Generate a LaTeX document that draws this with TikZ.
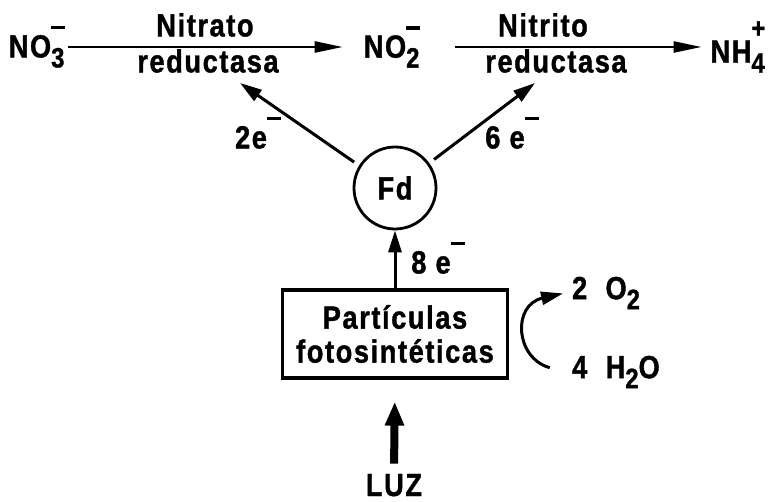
\documentclass[tikz,border=0pt]{standalone}
\usepackage{fontspec}
\setmainfont[LetterSpace=5, FakeStretch=0.85, BoldFeatures={FakeBold=1.2}]{Liberation Sans}
\usepackage{tikz}
\usetikzlibrary{
  arrows.meta,
  positioning
}
\newcommand{\subsz}{\fontsize{14}{14}\selectfont}
\newcommand{\chmin}{\rule[14pt]{7pt}{1.6pt}}
\newcommand{\chplus}{\raisebox{12.5pt}{\subsz +}}
\newcommand{\ion}[3]{#1\rlap{\raisebox{-5pt}{\subsz #2}}#3}
\newcommand{\chsub}[1]{\raisebox{-5pt}{\subsz #1}}

\begin{document}
\begin{tikzpicture}[
  x=0.5pt, y=-0.5pt,
  every node/.style={font=\fontsize{16}{18}\selectfont\bfseries},
  flow/.style={-{Triangle[length=14pt,width=5.5pt]}, line width=1.2pt},
  eflow/.style={-{Triangle[length=11pt,width=6.5pt]}, line width=1.5pt},
  light/.style={-{Triangle[length=12pt,width=9pt]}, line width=4pt},
  fdnode/.style={circle, draw, line width=1.4pt, minimum size=41pt, inner sep=0pt},
  partbox/.style={draw, line width=1.6pt, minimum width=112.5pt, minimum height=44pt,
                  align=center, inner sep=2pt}
]
  \useasboundingbox (0,0) rectangle (772,502);

  % Nitrogen reduction chain
  \node (no3) at (37,47) {\ion{NO}{3}{\chmin}};
  \node (no2) at (392,47) {\ion{NO}{2}{\chmin}};
  \node (nh4) at (738,47) {\ion{NH}{4}{\chplus}};
  \node (nr1) at (205,25) {Nitrato};
  \node (nr2) at (208,61) {reductasa};
  \node (nir1) at (543,25) {Nitrito};
  \node (nir2) at (556,61) {reductasa};

  \draw[flow, shorten <=-2pt, shorten >=7pt] (no3) -- (no2);
  \draw[flow, shorten <=14pt, shorten >=1pt] (no2) -- (nh4);

  % Ferredoxin and electrons
  \node[fdnode] (fd) at (395,188) {Fd};
  \coordinate (tip2) at (240,83);
  \coordinate (tip6) at (535,83);
  \draw[eflow, shorten <=3pt] (fd.148) -- (tip2);
  \draw[eflow, shorten <=3pt] (fd.36) -- (tip6);
  \node (e2) at (258,133) {2e\chmin};
  \node (e6) at (512,133) {6~e\chmin};

  % Photosynthetic particles
  \node[partbox] (part) at (395,334) {Partículas\\[-1pt]fotosintéticas};
  \draw[eflow] (part) -- (fd);
  \node (e8) at (438,258) {8~e\chmin};

  % Water splitting
  \node (o2) at (606,293) {2~~O\chsub{2}};
  \node (h2o) at (616,372) {4~~H\chsub{2}O};
  \draw[eflow, shorten <=8pt, shorten >=1pt] (h2o.west) .. controls (515,358) and (512,305) .. (o2.west);

  % Light input
  \node[anchor=base, inner sep=1pt] (luz) at (394,496) {LUZ};
  \draw[light, shorten <=4pt, shorten >=11pt] (luz.north) -- (part.south);
\end{tikzpicture}
\end{document}
